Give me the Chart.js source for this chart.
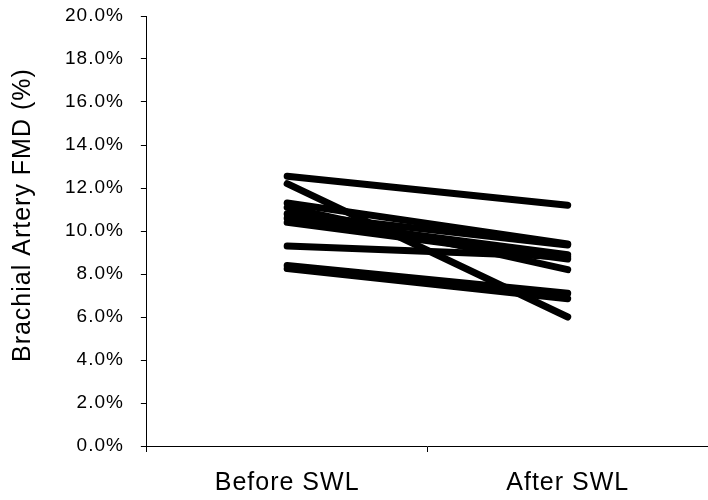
<!DOCTYPE html>
<html>
<head>
<meta charset="utf-8">
<script src="https://cdn.jsdelivr.net/npm/chart.js@4.4.1/dist/chart.umd.min.js"></script>
<style>
  html, body { margin: 0; padding: 0; background: #fff; }
  #wrap { width: 708px; height: 500px; }
</style>
</head>
<body>
<div id="wrap"><canvas id="fmd"></canvas></div>
<script>
const phases = ["Before SWL", "After SWL"];

// FMD (%) per subject, before and after SWL
const subj01 = [12.55, 11.2];
const subj02 = [12.2, 6.0];
const subj03 = [11.3, 9.4];
const subj04 = [11.1, 8.2];
const subj05 = [10.8, 9.35];
const subj06 = [10.6, 8.9];
const subj07 = [10.4, 8.7];
const subj08 = [9.3, 8.8];
const subj09 = [8.4, 7.1];
const subj10 = [8.25, 6.85];

const subjects = [subj01, subj02, subj03, subj04, subj05, subj06, subj07, subj08, subj09, subj10];

const yMin = 0;
const yMax = 20;
const yStep = 2;

// wider glyph spacing, reset whenever the canvas is resized
const spacing = {
    id: "spacing",
    beforeLayout: (chart) => { chart.ctx.letterSpacing = "1px"; },
    beforeDraw: (chart) => { chart.ctx.letterSpacing = "1px"; }
};

const font = "'Liberation Sans', Arial, sans-serif";
const ctx = document.getElementById("fmd").getContext("2d");

new Chart(ctx, {
    type: "line",
    data: {
        labels: phases,
        datasets: subjects.map((s, i) => ({
            label: "Subject " + (i + 1),
            data: s,
            borderColor: "#000",
            backgroundColor: "#000",
            borderWidth: 7,
            borderCapStyle: "round",
            pointRadius: 0,
            fill: false,
            tension: 0
        }))
    },
    options: {
        responsive: true,
        maintainAspectRatio: false,
        animation: false,
        layout: { padding: { top: 0, right: 0, bottom: -14, left: 8 } },
        plugins: {
            legend: { display: false },
            tooltip: { enabled: false }
        },
        scales: {
            x: {
                offset: true,
                border: { color: "#000", width: 1 },
                grid: {
                    offset: true,
                    drawOnChartArea: false,
                    drawTicks: true,
                    tickLength: 6,
                    color: "#000"
                },
                ticks: {
                    color: "#000",
                    padding: 16,
                    font: { family: font, size: 25 }
                }
            },
            y: {
                min: yMin,
                max: yMax,
                border: { color: "#000", width: 1 },
                grid: {
                    drawOnChartArea: false,
                    drawTicks: true,
                    tickLength: 6,
                    color: "#000"
                },
                ticks: {
                    stepSize: yStep,
                    color: "#000",
                    padding: 17,
                    font: { family: font, size: 19 },
                    callback: (v) => v.toFixed(1) + "%"
                },
                // tick padding would otherwise also push the plot top down
                afterFit: (scale) => {
                    scale.paddingTop = 16;
                    scale.paddingBottom = 0;
                },
                title: {
                    display: true,
                    // leading spaces lift the title a little above centre
                    text: "    Brachial Artery FMD (%)",
                    color: "#000",
                    padding: { top: 0, bottom: 10 },
                    font: { family: font, size: 25 }
                }
            }
        }
    },
    plugins: [spacing]
});
</script>
</body>
</html>
